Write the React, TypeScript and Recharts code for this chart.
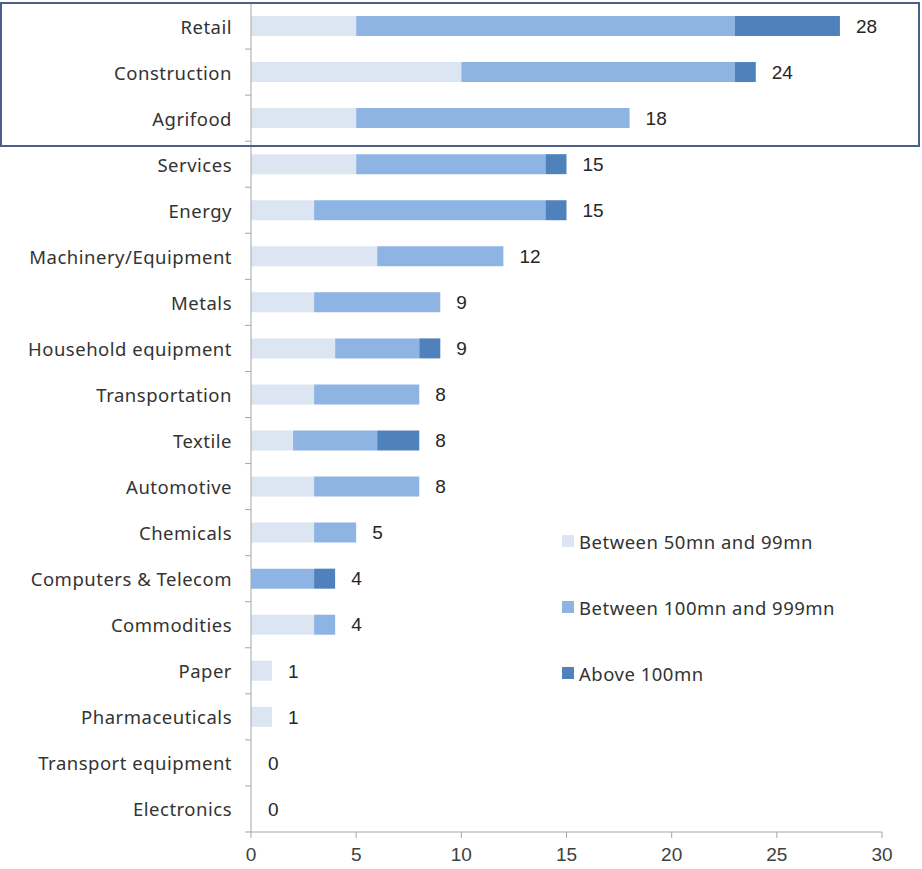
import { BarChart, Bar, XAxis, YAxis, LabelList } from "recharts";

const categories = [
  "Retail",
  "Construction",
  "Agrifood",
  "Services",
  "Energy",
  "Machinery/Equipment",
  "Metals",
  "Household equipment",
  "Transportation",
  "Textile",
  "Automotive",
  "Chemicals",
  "Computers & Telecom",
  "Commodities",
  "Paper",
  "Pharmaceuticals",
  "Transport equipment",
  "Electronics",
];

const small = [5, 10, 5, 5, 3, 6, 3, 4, 3, 2, 3, 3, 0, 3, 1, 1, 0, 0];
const mid = [18, 13, 13, 9, 11, 6, 6, 4, 5, 4, 5, 2, 3, 1, 0, 0, 0, 0];
const large = [5, 1, 0, 1, 1, 0, 0, 1, 0, 2, 0, 0, 1, 0, 0, 0, 0, 0];

const xTicks = [0, 5, 10, 15, 20, 25, 30];

const SERIES = [
  { key: "small", name: "Between 50mn and 99mn", color: "#dce6f2" },
  { key: "mid", name: "Between 100mn and 999mn", color: "#8eb4e3" },
  { key: "large", name: "Above 100mn", color: "#4f81bd" },
];

const data = categories.map((name, i) => ({
  name,
  small: small[i],
  mid: mid[i],
  large: large[i],
  total: small[i] + mid[i] + large[i],
}));

const W = 922;
const H = 869;
const TOP = 3;
const XAXIS_H = 37;
const BAND = (H - TOP - XAXIS_H) / categories.length;
const LABEL_FONT = "'Noto Sans', sans-serif";
const NUM_FONT = "'Liberation Sans', Arial, sans-serif";

const CategoryTick = ({ x, y, payload, index }: any) => {
  const axisX = x + 19;
  return (
    <g>
      <text
        x={x}
        y={y}
        textAnchor="end"
        dominantBaseline="central"
        fontFamily={LABEL_FONT}
        fontSize={18.5}
        letterSpacing={0.5}
        fill="#333333"
      >
        {payload.value}
      </text>
      <line x1={axisX - 6} x2={axisX} y1={y - BAND / 2} y2={y - BAND / 2} stroke="#a6a6a6" />
      {index === categories.length - 1 && (
        <line x1={axisX - 6} x2={axisX} y1={y + BAND / 2} y2={y + BAND / 2} stroke="#a6a6a6" />
      )}
    </g>
  );
};

const LegendBox = () => (
  <div
    style={{
      position: "absolute",
      left: 562,
      top: 508,
      fontFamily: LABEL_FONT,
      fontSize: 18.5,
      letterSpacing: 0.5,
      color: "#333333",
      whiteSpace: "nowrap",
    }}
  >
    {SERIES.map((s) => (
      <div key={s.key} style={{ display: "flex", alignItems: "center", height: 66 }}>
        <span
          style={{
            width: 12,
            height: 12,
            background: s.color,
            display: "inline-block",
            marginRight: 5,
          }}
        />
        {s.name}
      </div>
    ))}
  </div>
);

export default function App() {
  return (
    <div style={{ position: "absolute", left: 0, top: 0, width: W, height: H, background: "#fff" }}>
      <BarChart
        width={W}
        height={H}
        data={data}
        layout="vertical"
        margin={{ top: TOP, right: 40, bottom: 0, left: 0 }}
        barSize={20}
      >
        <XAxis
          type="number"
          domain={[0, 30]}
          ticks={xTicks}
          height={XAXIS_H}
          stroke="#a6a6a6"
          tickSize={6}
          tickMargin={10}
          tick={{ fill: "#404040", fontSize: 19, fontFamily: NUM_FONT }}
          interval={0}
        />
        <YAxis
          type="category"
          dataKey="name"
          width={251}
          stroke="#a6a6a6"
          tickLine={false}
          tickSize={6}
          tickMargin={13}
          interval={0}
          tick={<CategoryTick />}
        />
        <YAxis yAxisId="lbl" type="category" dataKey="name" hide />
        {SERIES.map((s) => (
          <Bar
            key={s.key}
            dataKey={s.key}
            name={s.name}
            stackId="a"
            fill={s.color}
            isAnimationActive={false}
          />
        ))}
        <Bar
          yAxisId="lbl"
          dataKey="total"
          fill="transparent"
          minPointSize={1}
          isAnimationActive={false}
        >
          <LabelList
            dataKey="total"
            position="right"
            offset={16}
            fill="#262626"
            fontSize={19}
            fontFamily={NUM_FONT}
          />
        </Bar>
      </BarChart>
      <LegendBox />
      <div
        style={{
          position: "absolute",
          left: 0,
          top: 2,
          width: 916,
          height: 141,
          border: "2px solid #4a5f8c",
          pointerEvents: "none",
        }}
      />
    </div>
  );
}
